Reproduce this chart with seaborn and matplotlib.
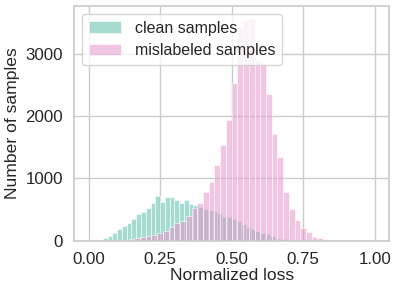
import numpy as np
import pandas as pd
import matplotlib
matplotlib.use("Agg")
import matplotlib.pyplot as plt
import seaborn as sns

# ==========================================================
# DADOS (contagens por bin)
# ==========================================================

# amostras limpas: 50 bins entre 0 e 0.8333
clean_range = (0.0, 0.8333)
clean_counts = [
    0, 3, 16, 43, 80, 122, 186, 245, 282, 351,
    425, 468, 532, 601, 718, 620, 707, 697, 654, 615,
    658, 592, 574, 548, 510, 495, 480, 440, 378, 376,
    355, 318, 278, 225, 188, 155, 130, 105, 75, 50,
    35, 26, 18, 12, 8, 6, 4, 3, 2, 1,
]

# amostras com rotulo errado: 50 bins entre 0 e 1
noisy_range = (0.0, 1.0)
noisy_counts = [
    0, 0, 1, 2, 5, 10, 16, 26, 43, 55,
    80, 96, 122, 165, 215, 282, 320, 400, 525, 612,
    787, 947, 1213, 1532, 1941, 2527, 3420, 3530, 3570, 2890,
    2850, 2350, 1720, 1350, 787, 511, 335, 213, 149, 59,
    48, 27, 16, 10, 6, 4, 3, 2, 1, 1,
]

labels = ["clean samples", "mislabeled samples"]
x_ticks = [0.0, 0.25, 0.5, 0.75, 1.0]
y_ticks = [0, 1000, 2000, 3000]


def tabela_bins(rng, counts):
    edges = np.linspace(rng[0], rng[1], len(counts) + 1)
    centers = (edges[:-1] + edges[1:]) / 2
    df = pd.DataFrame({"loss": centers, "count": counts})
    return df, edges.tolist()


sns.set_theme(style="whitegrid")
plt.rcParams["font.family"] = ["Liberation Sans", "DejaVu Sans"]

fig, ax = plt.subplots(figsize=(3.99, 2.92), dpi=100)
fig.subplots_adjust(left=0.186, right=0.975, top=0.979, bottom=0.175)

cores = ["#4db8a3", "#e78dc9"]

for rng, counts, cor, label in [
    (clean_range, clean_counts, cores[0], labels[0]),
    (noisy_range, noisy_counts, cores[1], labels[1]),
]:
    df, edges = tabela_bins(rng, counts)
    sns.histplot(
        data=df,
        x="loss",
        weights="count",
        bins=edges,
        color=cor,
        alpha=0.5,
        edgecolor="white",
        linewidth=0.4,
        label=label,
        ax=ax
    )

ax.set_xlim(-0.05, 1.05)
ax.set_ylim(0, 3760)
ax.set_xticks(x_ticks)
ax.set_yticks(y_ticks)
ax.set_xticklabels([f"{t:.2f}" for t in x_ticks])
ax.tick_params(labelsize=12.2, pad=2)

ax.set_xlabel("Normalized loss", fontsize=12.6, labelpad=1)
ax.set_ylabel("Number of samples", fontsize=12.6, labelpad=4)

ax.legend(loc="upper left", fontsize=11.5, frameon=True,
          borderaxespad=0.5, handlelength=2.0, handletextpad=0.9)

fig.savefig("out.png", dpi=100)
